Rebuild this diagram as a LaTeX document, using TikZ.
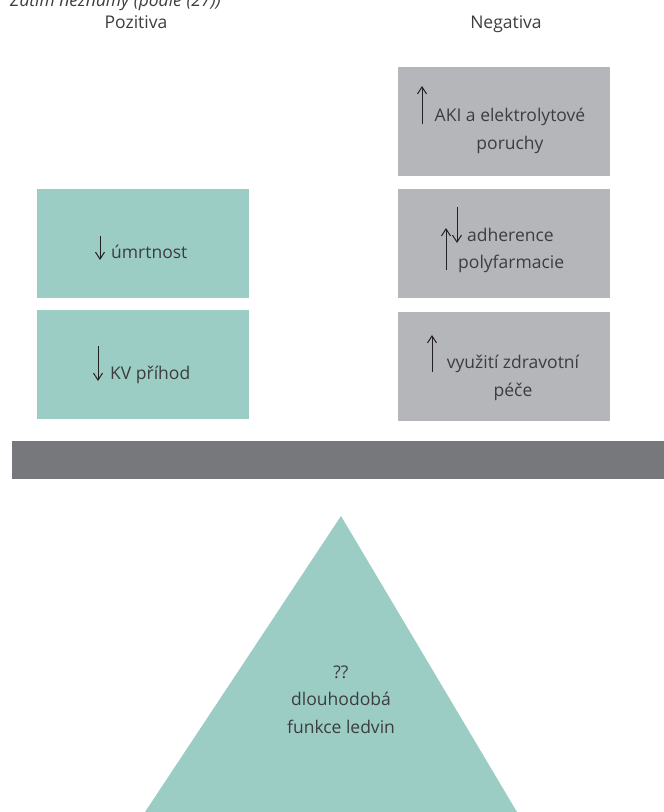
\documentclass[tikz,border=0pt]{standalone}
\usepackage{fontspec}
\setmainfont{Open Sans}
\usetikzlibrary{arrows.meta}
\definecolor{teal}{HTML}{9BCDC5}
\definecolor{greybox}{HTML}{B5B6B9}
\definecolor{bar}{HTML}{77787B}
\definecolor{txt}{HTML}{3C3D3E}
\definecolor{arrowc}{HTML}{231F20}
\tikzset{
  boxg/.style={fill=greybox, draw=none, minimum width=212pt, minimum height=109pt, anchor=north west, inner sep=0pt},
  boxt/.style={fill=teal, draw=none, minimum width=212pt, minimum height=109pt, anchor=north west, inner sep=0pt},
  lbl/.style={text=txt, font=\fontsize{17.5}{27.5}\selectfont, inner sep=0pt, align=center},
  arr/.style={draw=arrowc, line width=1pt, -{Straight Barb[length=7pt,width=9pt,line width=1pt]}},
}
\begin{document}
\begin{tikzpicture}[x=1pt,y=-1pt]
\useasboundingbox (0,0) rectangle (664,812);
% header
\node[lbl, anchor=base west, font=\itshape\fontsize{17.5}{27}\selectfont] (note) at (10,6) {Zatím neznámý (podle (27))};
\node[lbl, anchor=base] (poz) at (136,28) {Pozitiva};
\node[lbl, anchor=base] (neg) at (506,28) {Negativa};
% right grey boxes
\node[boxg] (g1) at (398,67) {};
\node[boxg] (g2) at (398,189) {};
\node[boxg] (g3) at (398,312) {};
% left teal boxes
\node[boxt] (t1) at (37,189) {};
\node[boxt] (t2) at (37,310) {};
% bar
\node[fill=bar, minimum width=652pt, minimum height=38pt, anchor=north west, inner sep=0pt] (beam) at (12,441) {};
% triangle
\fill[teal] (341,516) coordinate (apex) -- (145,812) -- (517,812) -- cycle;
% texts (base anchor = last line)
\node[lbl, anchor=base] (a1) at (510,149) {AKI a elektrolytové\\poruchy};
\node[lbl, anchor=base west] (a2a) at (467,241) {adherence};
\node[lbl, anchor=base west] (a2b) at (458,268) {polyfarmacie};
\node[lbl, anchor=base] (a3) at (513,396) {využití zdravotní\\péče};
\node[lbl, anchor=base west] (l1) at (111,258) {úmrtnost};
\node[lbl, anchor=base west] (l2) at (110,379) {KV příhod};
\node[lbl, anchor=base] (tri) at (341,733) {??\\dlouhodobá\\funkce ledvin};
% arrows
\draw[arr] (422,124) -- (422,86);
\draw[arr] (457,207) -- (457,243);
\draw[arr] (446,270) -- (446,228);
\draw[arr] (432,372) -- (432,335);
\draw[arr] (100,236) -- (100,260);
\draw[arr] (98,346) -- (98,381);
\end{tikzpicture}
\end{document}
